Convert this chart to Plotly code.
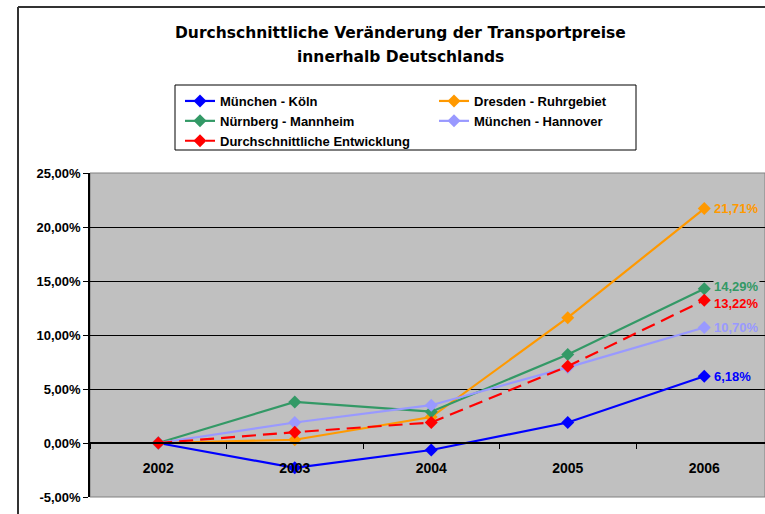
import plotly.graph_objects as go

years = ["2002", "2003", "2004", "2005", "2006"]
series_names = ["München - Köln", "Dresden - Ruhrgebiet", "Nürnberg - Mannheim",
                "München - Hannover", "Durchschnittliche Entwicklung"]
muenchen_koeln = [0.0, -2.3, -0.65, 1.9, 6.18]
dresden_ruhr = [0.0, 0.3, 2.4, 11.6, 21.71]
nuernberg_mannheim = [0.0, 3.8, 2.9, 8.2, 14.29]
muenchen_hannover = [0.0, 1.9, 3.5, 7.0, 10.70]
durchschnitt = [0.0, 1.0, 1.9, 7.1, 13.22]
y_tickvals = [-5, 0, 5, 10, 15, 20, 25]
y_ticktext = ["-5,00%", "0,00%", "5,00%", "10,00%", "15,00%", "20,00%", "25,00%"]
title_lines = ["Durchschnittliche Veränderung der Transportpreise", "innerhalb Deutschlands"]

all_series = [muenchen_koeln, dresden_ruhr, nuernberg_mannheim, muenchen_hannover, durchschnitt]
colors = ["#0000FF", "#FF9900", "#339966", "#9999FF", "#FF0000"]
dashes = ["solid", "solid", "solid", "solid", "14px,7px"]
legend_ids = ["legend", "legend2", "legend", "legend2", "legend"]
label_yshift = [0, 0, 2, 0, -3]

W, H = 765, 514
L, R, T, B = 90, 765, 173, 497
def xp(px):
    return (px - L) / (R - L)
def yp(py):
    return (B - py) / (B - T)

FONT = "Liberation Sans, Arial, sans-serif"
TFONT = "DejaVu Sans, sans-serif"

fig = go.Figure()
for name, vals, col, d, lg in zip(series_names, all_series, colors, dashes, legend_ids):
    fig.add_trace(go.Scatter(
        x=years, y=vals, name=name, mode="lines+markers",
        line=dict(color=col, width=2.2, dash=d),
        marker=dict(symbol="diamond", size=10, color=col),
        hoverinfo="skip", legend=lg,
    ))

annotations = []
last_idx = len(years) - 1
for vals, col, ys in zip(all_series, colors, label_yshift):
    annotations.append(dict(
        x=last_idx, y=vals[-1], xref="x", yref="y",
        text=f"<b>{vals[-1]:.2f}%</b>".replace(".", ","),
        xanchor="left", yanchor="middle", xshift=9, yshift=ys, showarrow=False,
        bgcolor="#C0C0C0", borderpad=0, height=13,
        font=dict(family=FONT, size=13, color=col),
    ))
for i, line in enumerate(title_lines):
    annotations.append(dict(
        x=xp(400), y=yp(33 + 24 * i), xref="paper", yref="paper",
        text=f"<b>{line}</b>", showarrow=False, xanchor="center", yanchor="middle",
        font=dict(family=TFONT, size=15.5, color="#000000"),
    ))

shapes = [
    # outer chart border (left and top)
    dict(type="line", xref="paper", yref="paper", x0=xp(18), x1=xp(18), y0=yp(7), y1=yp(514),
         line=dict(color="#333333", width=2)),
    dict(type="line", xref="paper", yref="paper", x0=xp(18), x1=xp(765), y0=yp(7), y1=yp(7),
         line=dict(color="#333333", width=2)),
    # plot area border
    dict(type="rect", xref="paper", yref="paper", x0=0, x1=1, y0=0, y1=1,
         line=dict(color="#808080", width=1), layer="below"),
    # legend box
    dict(type="rect", xref="paper", yref="paper", x0=xp(175), x1=xp(636), y0=yp(85), y1=yp(150),
         line=dict(color="#000000", width=1)),
]

legend_common = dict(
    orientation="v", xanchor="left", yanchor="top",
    bgcolor="rgba(0,0,0,0)", borderwidth=0,
    font=dict(family=FONT, size=13, weight="bold"),
    itemclick=False, itemdoubleclick=False, tracegroupgap=0,
)

fig.update_layout(
    width=W, height=H,
    margin=dict(l=L, r=W - R, t=T, b=H - B, pad=0),
    paper_bgcolor="#FFFFFF", plot_bgcolor="#C0C0C0",
    font=dict(family=FONT, color="#000000"),
    showlegend=True,
    legend=dict(x=xp(180), y=yp(86), **legend_common),
    legend2=dict(x=xp(434), y=yp(86), **legend_common),
    annotations=annotations,
    shapes=shapes,
)
fig.update_xaxes(
    type="category", range=[-0.5, 4.445],
    anchor="free", position=(0 - y_tickvals[0]) / (y_tickvals[-1] - y_tickvals[0]),
    showline=True, linecolor="#000000", linewidth=1.5,
    ticks="outside", tickson="boundaries", ticklen=5, tickcolor="#000000",
    ticklabelstandoff=12,
    showgrid=False, zeroline=False,
    tickfont=dict(family=FONT, size=14, weight="bold"),
)
fig.update_yaxes(
    range=[y_tickvals[0], y_tickvals[-1]], tickvals=y_tickvals, ticktext=y_ticktext,
    showline=True, linecolor="#000000", linewidth=1.5,
    ticks="outside", ticklen=5, tickcolor="#000000",
    showgrid=True, gridcolor="#000000", gridwidth=1, zeroline=False,
    tickfont=dict(family=FONT, size=13, weight="bold"),
)
fig.write_html("out.html", config={"displayModeBar": False},
               post_script="document.body.style.margin='0px';")
